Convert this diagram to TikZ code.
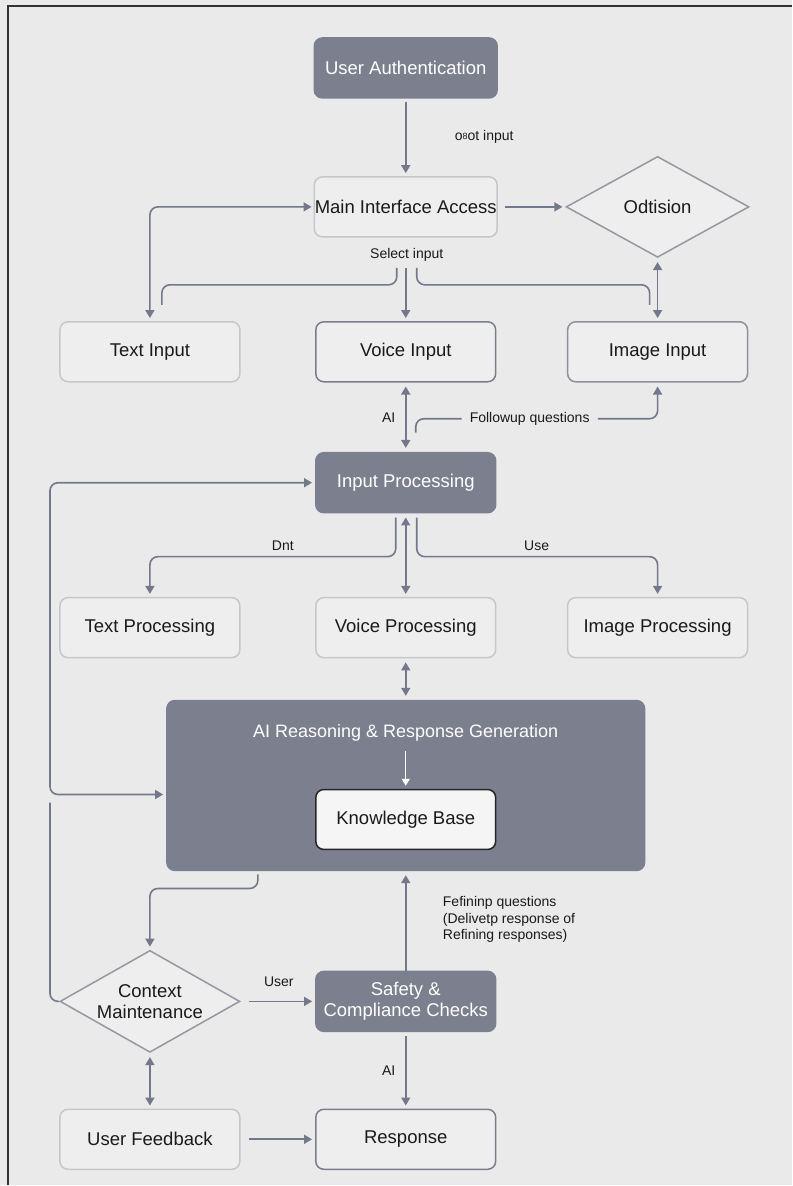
\documentclass[tikz,border=0pt]{standalone}
\usepackage{fontspec}
\setmainfont{Liberation Sans}
\usetikzlibrary{arrows.meta,shapes.geometric}
\definecolor{bg}{HTML}{EAEAEA}
\definecolor{darkfill}{HTML}{7B7F8E}
\definecolor{ln}{HTML}{737988}
\definecolor{lightbd}{HTML}{C6C7CB}
\definecolor{midbd}{HTML}{7A7E8A}
\definecolor{boxfill}{HTML}{EEEEEE}
\definecolor{txt}{HTML}{1A1A1A}
\begin{document}
\begin{tikzpicture}[x=1pt,y=-1pt,
  box/.style={rectangle,rounded corners=8pt,minimum width=180pt,minimum height=60pt,
    font=\fontsize{18.5}{21}\selectfont,fill=boxfill,draw=lightbd,line width=1.5pt,
    inner sep=0pt,text=txt,align=center},
  darkbox/.style={box,fill=darkfill,draw=darkfill,text=white},
  dia/.style={diamond,draw=midbd!80,line width=1.5pt,fill=boxfill,inner sep=0pt,
    font=\fontsize{18.5}{21}\selectfont,text=txt,align=center},
  conn/.style={draw=ln,line width=1.6pt,rounded corners=8pt},
  arr/.style={-{Triangle[width=9pt,length=8pt]}},
  both/.style={{Triangle[width=9pt,length=8pt]}-{Triangle[width=9pt,length=8pt]}},
  lbl/.style={font=\fontsize{14}{16.5}\selectfont,text=txt,inner sep=0pt}
]
\fill[bg] (0,0) rectangle (792,1186);
\draw[black!80,line width=1.5pt] (8,1186) -- (8,6) -- (792,6);
\useasboundingbox (0,0) rectangle (792,1186);

% nodes
\node[darkbox,minimum width=183pt] (auth) at (406,68) {User Authentication};
\node[box,minimum width=183pt] (main) at (406,207) {Main Interface Access};
\node[dia,minimum width=183pt,minimum height=101pt,aspect=1.8] (odt) at (658,207) {Odtision};
\node[box] (tin) at (150,352) {Text Input};
\node[box,draw=midbd] (vin) at (406,352) {Voice Input};
\node[box,draw=midbd!85] (iin) at (658,352) {Image Input};
\node[darkbox] (inproc) at (406,483) {Input Processing};
\node[box] (tproc) at (150,628) {Text Processing};
\node[box] (vproc) at (406,628) {Voice Processing};
\node[box] (iproc) at (658,628) {Image Processing};
\node[darkbox,minimum width=478pt,minimum height=170pt] (ai) at (406,786) {};
\node[text=white,font=\fontsize{18}{20}\selectfont,inner sep=2pt] (aititle) at (406,733) {AI Reasoning \& Response Generation};
\node[box,fill=boxfill!60!white,draw=black!85] (kb) at (406,820) {Knowledge Base};
\node[dia,minimum width=180pt,minimum height=102pt,aspect=1.75] (ctx) at (150,1002) {Context\\Maintenance};
\node[darkbox] (safe) at (406,1002) {Safety \&\\Compliance Checks};
\node[box] (fb) at (150,1140) {User Feedback};
\node[box,draw=midbd] (resp) at (406,1140) {Response};

% labels
\node[lbl,anchor=west] (l1) at (455,137) {o\raisebox{1.5pt}{\fontsize{9}{9}\selectfont 8}ot input};
\node[lbl] (l2) at (407,255) {Select input};
\node[lbl] (l3) at (389,418) {AI};
\node[lbl] (l4) at (530,419) {Followup questions};
\node[lbl] (l5) at (283,546) {Dnt};
\node[lbl] (l6) at (537,546) {Use};
\node[lbl,anchor=north west,align=left] (l7) at (443,897) {Fefininp questions\\(Delivetp response of\\Refining responses)};
\node[lbl] (l8) at (279,982) {User};
\node[lbl] (l9) at (389,1071) {AI};

% coordinates
\coordinate (sl) at (397,268);
\coordinate (sm) at (406,268);
\coordinate (sr) at (417,268);
\coordinate (slend) at (162,305);
\coordinate (srend) at (650,305);
\coordinate (fq) at (416,433);
\coordinate (lp) at (50,795);
\coordinate (lq) at (50,803);
\coordinate (pl) at (396,518);
\coordinate (pr) at (417,518);
\coordinate (ab) at (258,875);

% connectors
\draw[conn,arr,shorten <=3pt,shorten >=3pt] (auth) -- (main);
\draw[conn,both,shorten <=3pt,shorten >=2pt] (tin.north) |- (main.west);
\draw[conn,arr,shorten <=7pt,shorten >=3pt] (main.east) -- (odt.west);
\draw[conn] (sl) -- (sl |- 0,285) -| (slend);
\draw[conn,arr,shorten >=3pt] (sm) -- (vin.north);
\draw[conn] (sr) -- (sr |- 0,285) -| (srend);
\draw[conn,both,shorten <=4pt,shorten >=3pt] (odt.south) -- (iin.north);
\draw[conn,both,shorten <=4pt,shorten >=4pt] (vin.south) -- (inproc.north);
\draw[conn] (fq) |- ([xshift=-8pt]l4.west);
\draw[conn,arr,shorten >=4pt] ([xshift=8pt]l4.east) -| (iin.south);
\draw[conn,both,shorten <=3pt,shorten >=3pt] (inproc.west) -| (lp) -- ([yshift=-9pt]ai.west);
\draw[conn] (lq) |- (ctx.west);
\draw[conn,arr,shorten >=3pt] (pl) -- (pl |- 0,557) -| (tproc.north);
\draw[conn,both,shorten <=4pt,shorten >=3pt] (inproc.south) -- (vproc.north);
\draw[conn,arr,shorten >=3pt] (pr) -- (pr |- 0,557) -| (iproc.north);
\draw[conn,both,shorten <=4pt,shorten >=4pt] (vproc.south) -- (ai.north);
\draw[white,line width=1.5pt,-{Triangle[width=8pt,length=7pt]},shorten <=8pt,shorten >=3pt] (aititle) -- (kb);
\draw[conn,arr,shorten >=3pt] (ab) -- (ab |- 0,889) -| (ctx.north);
\draw[conn,arr,shorten >=4pt] (safe.north) -- (ai.south);
\draw[conn,arr,shorten <=8pt,shorten >=3pt] (ctx.east) -- (safe.west);
\draw[conn,arr,shorten <=4pt,shorten >=3pt] (safe.south) -- (resp.north);
\draw[conn,both,shorten <=4pt,shorten >=3pt] (ctx.south) -- (fb.north);
\draw[conn,arr,shorten <=8pt,shorten >=3pt] (fb.east) -- (resp.west);
\end{tikzpicture}
\end{document}
